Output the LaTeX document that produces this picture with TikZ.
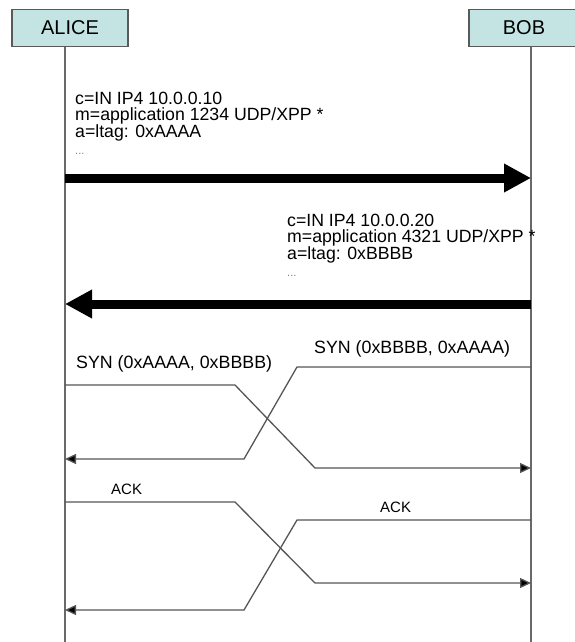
\documentclass[tikz,border=0pt]{standalone}
\usepackage{fontspec}
\setmainfont{Liberation Sans}
\usepackage{xcolor}
\definecolor{hdrcyan}{RGB}{196,228,228}
\definecolor{hdredge}{RGB}{90,90,90}
\definecolor{lifegray}{RGB}{105,105,105}
\definecolor{msggray}{RGB}{85,85,85}
\usetikzlibrary{arrows.meta,positioning}

\begin{document}
\begin{tikzpicture}[x=1pt, y=-1pt,
  hdr/.style={fill=hdrcyan, draw=hdredge, line width=1.2pt, font=\fontsize{20}{24}\selectfont, minimum height=37pt, inner sep=0pt},
  life/.style={draw=lifegray, line width=1.2pt},
  sdp/.style={font=\fontsize{17.7}{16.3}\selectfont, align=left, inner sep=0pt, anchor=west},
  bigmsg/.style={line width=9pt, -{Triangle[length=27pt, width=27pt]}},
  synmsg/.style={draw=msggray, line width=1.3pt, -{Triangle[length=11pt, width=10pt, fill=black]}},
  lbl/.style={font=\fontsize{17.8}{20}\selectfont, inner sep=0pt, anchor=west},
  acklbl/.style={font=\fontsize{15}{18}\selectfont, inner sep=0pt, anchor=west}
]
  \useasboundingbox (0,0) rectangle (574,642);

  % parties
  \node[hdr, minimum width=116pt] (alice) at (70,28) {ALICE};
  \node[hdr, minimum width=110pt] (bob) at (524,28) {BOB};

  \coordinate (aliceTop) at (65,47);
  \coordinate (aliceEnd) at (65,642);
  \coordinate (bobTop) at (531,47);
  \coordinate (bobEnd) at (531,642);
  \draw[life] (aliceTop) -- (aliceEnd);
  \draw[life] (bobTop) -- (bobEnd);

  % offer and answer
  \node[sdp] (offer) at (75,123) {c=IN IP4 10.0.0.10\\m=application 1234 UDP/XPP *\\a=ltag: 0xAAAA\\\textcolor{gray}{\fontsize{11}{16}\selectfont ...}};
  \coordinate (offerA) at (65,178);
  \coordinate (offerB) at (531,178);
  \draw[bigmsg] (offerA) -- (offerB);

  \node[sdp] (answer) at (287,245) {c=IN IP4 10.0.0.20\\m=application 4321 UDP/XPP *\\a=ltag: 0xBBBB\\\textcolor{gray}{\fontsize{11}{16}\selectfont ...}};
  \coordinate (answerB) at (531,304);
  \coordinate (answerA) at (65,304);
  \draw[bigmsg] (answerB) -- (answerA);

  % crossing SYNs
  \node[lbl] (synAlbl) at (76,364) {SYN (0xAAAA, 0xBBBB)};
  \coordinate (synA0) at (65,385);
  \coordinate (synA1) at (235,385);
  \coordinate (synA2) at (315,468);
  \coordinate (synA3) at (531,468);
  \draw[synmsg] (synA0) -- (synA1) -- (synA2) -- (synA3);

  \node[lbl] (synBlbl) at (314,349) {SYN (0xBBBB, 0xAAAA)};
  \coordinate (synB0) at (531,367);
  \coordinate (synB1) at (297,367);
  \coordinate (synB2) at (244,459);
  \coordinate (synB3) at (65,459);
  \draw[synmsg] (synB0) -- (synB1) -- (synB2) -- (synB3);

  % crossing ACKs
  \node[acklbl] (ackAlbl) at (111,489) {ACK};
  \coordinate (ackA0) at (65,502);
  \coordinate (ackA1) at (235,502);
  \coordinate (ackA2) at (315,583);
  \coordinate (ackA3) at (531,583);
  \draw[synmsg] (ackA0) -- (ackA1) -- (ackA2) -- (ackA3);

  \node[acklbl] (ackBlbl) at (380,507) {ACK};
  \coordinate (ackB0) at (531,520);
  \coordinate (ackB1) at (297,520);
  \coordinate (ackB2) at (244,610);
  \coordinate (ackB3) at (65,610);
  \draw[synmsg] (ackB0) -- (ackB1) -- (ackB2) -- (ackB3);
\end{tikzpicture}
\end{document}
